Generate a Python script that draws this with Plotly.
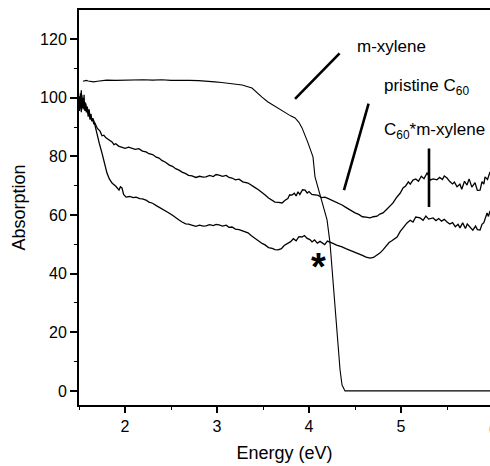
import plotly.graph_objects as go

# ---- data ----
pristine_x = [1.500, 1.505, 1.510, 1.515, 1.520, 1.525, 1.530, 1.535, 1.540, 1.545, 1.550, 1.555, 1.560, 1.565, 1.570, 1.575, 1.580, 1.590, 1.600, 1.610, 1.620, 1.630, 1.640, 1.650, 1.660, 1.670, 1.685, 1.700, 1.717, 1.73, 1.75, 1.77, 1.793, 1.82, 1.84, 1.859, 1.88, 1.90, 1.93, 1.967, 2.00, 2.04, 2.076, 2.11, 2.15, 2.19, 2.228, 2.26, 2.30, 2.34, 2.370, 2.40, 2.44, 2.478, 2.52, 2.55, 2.587, 2.62, 2.66, 2.69, 2.728, 2.77, 2.81, 2.85, 2.880, 2.92, 2.96, 2.99, 3.022, 3.06, 3.10, 3.13, 3.163, 3.20, 3.24, 3.28, 3.337, 3.37, 3.41, 3.45, 3.489, 3.52, 3.56, 3.60, 3.630, 3.67, 3.707, 3.74, 3.77, 3.79, 3.815, 3.84, 3.86, 3.88, 3.90, 3.93, 3.957, 3.98, 4.00, 4.03, 4.065, 4.10, 4.14, 4.174, 4.21, 4.25, 4.29, 4.33, 4.359, 4.40, 4.44, 4.47, 4.500, 4.54, 4.58, 4.62, 4.663, 4.70, 4.74, 4.77, 4.804, 4.84, 4.87, 4.913, 4.95, 4.99, 5.022, 5.05, 5.08, 5.10, 5.130, 5.16, 5.19, 5.22, 5.25, 5.283, 5.30, 5.315, 5.35, 5.39, 5.42, 5.45, 5.47, 5.500, 5.53, 5.56, 5.58, 5.609, 5.64, 5.66, 5.69, 5.717, 5.74, 5.77, 5.804, 5.83, 5.859, 5.88, 5.90, 5.913, 5.94, 5.967]
pristine_y = [97.5, 100.5, 96.0, 101.5, 98.0, 102.5, 97.0, 100.0, 96.5, 99.5, 97.0, 101.0, 96.0, 98.5, 95.5, 98.0, 96.0, 97.0, 94.5, 96.0, 93.0, 94.5, 92.0, 93.0, 91.0, 91.5, 90.5, 89.5, 89.0, 88.5, 87.0, 87.2, 86.3, 85.6, 85.4, 84.9, 84.0, 84.3, 83.5, 83.2, 82.7, 83.1, 82.8, 82.4, 82.6, 81.8, 81.5, 80.9, 80.6, 79.7, 79.4, 78.6, 78.0, 77.1, 76.5, 75.8, 75.3, 74.6, 74.1, 73.5, 73.3, 72.8, 73.2, 72.9, 73.0, 73.5, 73.1, 73.8, 73.6, 73.2, 73.5, 72.8, 72.6, 72.0, 72.2, 71.3, 70.9, 70.1, 69.4, 68.6, 67.8, 66.9, 65.8, 65.0, 64.4, 64.3, 64.1, 65.0, 65.6, 66.9, 66.8, 67.4, 66.5, 67.9, 67.0, 68.6, 68.5, 67.5, 68.0, 67.0, 66.8, 66.7, 65.9, 66.1, 65.6, 65.0, 64.6, 63.8, 63.4, 62.6, 61.8, 61.3, 60.7, 60.2, 59.4, 59.3, 59.0, 59.4, 59.6, 60.3, 60.7, 61.8, 62.7, 64.1, 65.9, 67.4, 69.2, 69.9, 71.3, 70.5, 71.9, 72.3, 71.5, 73.2, 72.4, 74.3, 73.5, 71.9, 72.3, 72.0, 72.8, 72.1, 73.3, 72.6, 71.4, 70.6, 71.2, 69.6, 70.5, 68.8, 71.5, 70.2, 72.3, 69.5, 71.0, 68.4, 68.5, 71.4, 70.5, 73.0, 72.1, 74.7]

complex_x = [1.500, 1.505, 1.510, 1.515, 1.520, 1.525, 1.530, 1.535, 1.540, 1.545, 1.550, 1.555, 1.560, 1.565, 1.570, 1.580, 1.590, 1.600, 1.610, 1.620, 1.630, 1.640, 1.650, 1.663, 1.680, 1.696, 1.72, 1.750, 1.78, 1.804, 1.83, 1.859, 1.90, 1.935, 1.95, 1.967, 1.985, 2.011, 2.05, 2.09, 2.120, 2.16, 2.19, 2.228, 2.26, 2.30, 2.34, 2.370, 2.40, 2.44, 2.478, 2.52, 2.55, 2.587, 2.62, 2.66, 2.69, 2.728, 2.77, 2.81, 2.85, 2.880, 2.92, 2.96, 2.99, 3.022, 3.06, 3.10, 3.13, 3.163, 3.20, 3.24, 3.28, 3.337, 3.37, 3.41, 3.45, 3.49, 3.522, 3.56, 3.60, 3.63, 3.663, 3.70, 3.73, 3.772, 3.80, 3.83, 3.86, 3.89, 3.924, 3.95, 3.98, 4.01, 4.033, 4.06, 4.09, 4.12, 4.141, 4.17, 4.20, 4.228, 4.26, 4.30, 4.33, 4.359, 4.40, 4.44, 4.47, 4.500, 4.54, 4.58, 4.62, 4.663, 4.70, 4.74, 4.77, 4.804, 4.84, 4.87, 4.90, 4.957, 4.99, 5.03, 5.065, 5.10, 5.13, 5.16, 5.207, 5.24, 5.27, 5.30, 5.348, 5.38, 5.41, 5.44, 5.47, 5.500, 5.53, 5.56, 5.59, 5.62, 5.641, 5.67, 5.70, 5.72, 5.750, 5.78, 5.81, 5.83, 5.859, 5.88, 5.90, 5.935, 5.95, 5.967]
complex_y = [98.5, 95.5, 100.0, 96.5, 99.5, 95.0, 101.0, 97.5, 99.0, 96.0, 100.0, 96.5, 98.5, 95.5, 97.5, 95.0, 96.5, 93.5, 95.0, 92.5, 93.5, 92.0, 92.8, 92.0, 89.5, 88.0, 84.5, 81.1, 77.5, 74.3, 72.3, 70.9, 69.8, 68.5, 69.6, 69.2, 67.0, 66.1, 66.3, 65.9, 66.1, 65.6, 65.5, 65.1, 64.4, 64.0, 63.2, 62.7, 62.0, 61.5, 60.7, 59.8, 59.0, 58.3, 57.6, 57.0, 56.9, 56.6, 56.1, 56.5, 56.2, 56.3, 56.7, 56.4, 56.8, 56.6, 56.2, 56.5, 55.8, 55.9, 55.2, 55.0, 54.5, 53.9, 53.0, 52.1, 51.1, 50.3, 49.8, 48.9, 48.6, 48.2, 48.1, 48.5, 49.6, 50.5, 50.9, 51.9, 51.2, 52.6, 52.5, 53.0, 52.0, 51.6, 50.8, 51.5, 50.4, 51.0, 50.5, 49.9, 51.1, 50.8, 50.3, 49.7, 49.5, 49.1, 48.5, 48.0, 47.8, 47.4, 46.7, 46.2, 45.6, 45.3, 45.5, 46.3, 47.0, 48.1, 49.3, 50.6, 51.2, 52.5, 54.3, 55.8, 57.3, 58.2, 57.6, 59.3, 59.0, 58.2, 59.6, 58.6, 59.0, 58.1, 58.8, 57.9, 58.5, 57.6, 56.9, 57.4, 56.0, 56.8, 55.6, 57.3, 55.4, 56.9, 55.9, 54.8, 56.2, 55.0, 54.9, 56.8, 57.4, 60.7, 59.5, 61.4]

xylene_x = [1.543, 1.56, 1.58, 1.60, 1.63, 1.66, 1.70, 1.75, 1.80, 1.90, 2.00, 2.10, 2.20, 2.30, 2.40, 2.50, 2.60, 2.70, 2.80, 2.90, 2.978, 3.05, 3.15, 3.272, 3.380, 3.43, 3.489, 3.55, 3.609, 3.67, 3.739, 3.80, 3.848, 3.89, 3.924, 3.96, 3.989, 4.015, 4.043, 4.065, 4.130, 4.196, 4.228, 4.250, 4.261, 4.304, 4.337, 4.359, 4.391, 4.50, 5.00, 5.50, 6.00]
xylene_y = [105.6, 105.8, 105.9, 105.7, 105.5, 105.4, 105.6, 105.9, 106.0, 105.9, 106.0, 105.9, 106.1, 106.0, 106.1, 105.9, 106.0, 105.9, 105.8, 105.7, 105.4, 105.2, 104.9, 104.3, 103.3, 101.8, 100.2, 98.6, 97.5, 96.2, 94.8, 93.8, 93.1, 91.6, 89.7, 87.2, 84.6, 82.3, 79.8, 73.0, 66.1, 58.3, 50.5, 41.3, 37.8, 20.8, 7.2, 2.0, 0.0, 0.0, 0.0, 0.0, 0.0]

x_ticks = [2, 3, 4, 5, 6]
y_ticks = [0, 20, 40, 60, 80, 100, 120]

FONT = "Arial, 'Liberation Sans', sans-serif"

fig = go.Figure()
fig.add_trace(go.Scatter(x=xylene_x, y=xylene_y, mode="lines",
                         line=dict(color="black", width=1.1), name="m-xylene"))
fig.add_trace(go.Scatter(x=pristine_x, y=pristine_y, mode="lines",
                         line=dict(color="black", width=1.3), name="pristine C60"))
fig.add_trace(go.Scatter(x=complex_x, y=complex_y, mode="lines",
                         line=dict(color="black", width=1.3), name="C60*m-xylene"))

ann = []
# labels
ann.append(dict(x=4.5, y=117.6, xref="x", yref="y", text="m-xylene", showarrow=False,
                xanchor="left", yanchor="middle", font=dict(size=17, color="black", family=FONT)))
ann.append(dict(x=4.793, y=103.5, xref="x", yref="y",
                text="pristine C<sub>60</sub>", showarrow=False,
                xanchor="left", yanchor="middle", font=dict(size=17, color="black", family=FONT)))
ann.append(dict(x=4.793, y=88.5, xref="x", yref="y",
                text="C<sub>60</sub>*m-xylene", showarrow=False,
                xanchor="left", yanchor="middle", font=dict(size=17, color="black", family=FONT)))
# pointer strokes
for tip, tail in [((3.848, 99.6), (4.348, 115.6)),
                  ((4.380, 68.5), (4.652, 98.5)),
                  ((5.304, 62.7), (5.304, 83.2))]:
    ann.append(dict(x=tip[0], y=tip[1], ax=tail[0], ay=tail[1], xref="x", yref="y",
                    axref="x", ayref="y", text="", showarrow=True, arrowhead=0,
                    arrowwidth=2.6, arrowcolor="black", standoff=0, startstandoff=0))
# asterisk
ann.append(dict(x=4.098, y=45.3, xref="x", yref="y", text="<b>*</b>", showarrow=False,
                xanchor="center", yanchor="middle", yshift=-9,
                font=dict(size=38, color="black", family=FONT)))
# partially cut tick label at right edge
ann.append(dict(x=(6 - 1.5) / (5.967 - 1.5), y=-0.035, xref="paper", yref="paper", text="6",
                showarrow=False, xanchor="center", yanchor="top",
                font=dict(size=16, color="black", family=FONT)))

fig.update_layout(
    width=490, height=466,
    margin=dict(l=79, r=0, t=10, b=61),
    paper_bgcolor="white", plot_bgcolor="white",
    showlegend=False,
    annotations=ann,
    font=dict(family=FONT, color="black", size=16),
)
fig.update_xaxes(range=[1.5, 5.967], tickvals=x_ticks, ticks="outside", ticklen=6, tickwidth=1.5,
                 tickcolor="black", showline=True, linewidth=2, linecolor="black", mirror=True,
                 showgrid=False, zeroline=False, tickfont=dict(size=16),
                 minor=dict(tickvals=[1.5, 2.5, 3.5, 4.5, 5.5], ticks="outside", ticklen=3,
                            tickwidth=1.2, tickcolor="black"),
                 title=dict(text="Energy (eV)", font=dict(size=18), standoff=12))
fig.update_yaxes(range=[-4.8, 129.9], tickvals=y_ticks, ticks="outside", ticklen=7, tickwidth=1.5,
                 tickcolor="black", showline=True, linewidth=2, linecolor="black", mirror=False,
                 showgrid=False, zeroline=False, tickfont=dict(size=16),
                 minor=dict(tickvals=[10, 30, 50, 70, 90, 110], ticks="outside", ticklen=3,
                            tickwidth=1.2, tickcolor="black"),
                 title=dict(text="Absorption", font=dict(size=18), standoff=10))

fig.write_html("out.html")
